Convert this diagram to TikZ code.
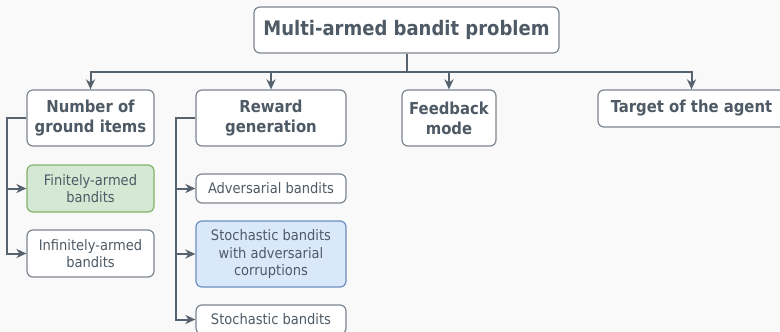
\documentclass[tikz,border=0pt]{standalone}
\usepackage{fontspec}
\setmainfont{DejaVu Sans Condensed}
\usetikzlibrary{arrows.meta,positioning}
\definecolor{bgray}{RGB}{249,249,249}
\definecolor{linegray}{RGB}{86,99,110}
\definecolor{bordergray}{RGB}{125,133,142}
\definecolor{textgray}{RGB}{78,90,101}
\definecolor{leafgreen}{RGB}{213,232,212}
\definecolor{greenborder}{RGB}{130,179,102}
\definecolor{leafblue}{RGB}{218,232,252}
\definecolor{blueborder}{RGB}{108,142,191}
\tikzset{
    % Define standard node styles
    rootbox/.style={
        rectangle, draw=bordergray, line width=1.2pt, fill=white,
        rounded corners=6pt, align=center, text=textgray,
        font=\fontsize{20}{23}\selectfont\bfseries,
        minimum width=305pt, minimum height=46pt, inner sep=0pt
    },
    catbox/.style={
        rectangle, draw=bordergray, line width=1.2pt, fill=white,
        rounded corners=6pt, align=center, text=textgray,
        font=\fontsize{16.5}{20}\selectfont\bfseries,
        minimum height=56pt, inner sep=0pt
    },
    leafbox/.style={
        rectangle, draw=bordergray, line width=1.2pt, fill=white,
        rounded corners=6pt, align=center, text=textgray,
        font=\fontsize{14.5}{17.5}\selectfont,
        inner sep=0pt
    },
    arrow/.style={
        -{Stealth[length=10pt,width=9pt,inset=3pt]}, line width=2pt, color=linegray
    }
}
\begin{document}
\begin{tikzpicture}[x=1pt,y=-1pt]

% Canvas
\fill[bgray] (0,0) rectangle (780,332);
\useasboundingbox (0,0) rectangle (780,332);
\clip (0,0) rectangle (780,332);

% Root
\node[rootbox] (root) at (406.5,30) {Multi-armed bandit problem};

% Categories
\node[catbox, minimum width=127pt] (items) at (90.5,118) {Number of\\ground items};
\node[catbox, minimum width=150pt] (reward) at (271,118) {Reward\\generation};
\node[catbox, minimum width=94pt] (feedback) at (449,118) {Feedback\\mode};
\node[catbox, minimum width=187pt, minimum height=37pt] (target) at (691.5,108.5) {Target of the agent};

% Leaves of ground items
\node[leafbox, fill=leafgreen, draw=greenborder, minimum width=127pt, minimum height=47pt] (finite) at (90.5,188.5) {Finitely-armed\\bandits};
\node[leafbox, minimum width=127pt, minimum height=47pt] (infinite) at (90.5,253.5) {Infinitely-armed\\bandits};

% Leaves of reward generation
\node[leafbox, minimum width=150pt, minimum height=29pt] (adversarial) at (271,188.5) {Adversarial bandits};
\node[leafbox, fill=leafblue, draw=blueborder, minimum width=150pt, minimum height=66pt] (corrupted) at (271,254) {Stochastic bandits\\with adversarial\\corruptions};
\node[leafbox, minimum width=150pt, minimum height=29pt] (stochastic) at (271,319.5) {Stochastic bandits};

% Tree connectors
\draw[arrow] (root.south) -- ++(0,18) -| (items.north);
\draw[arrow] (root.south) -- ++(0,18) -| (reward.north);
\draw[arrow] (root.south) -- ++(0,18) -| (feedback.north);
\draw[arrow] (root.south) -- ++(0,18) -| (target.north);

\draw[arrow] (items.west) -- ++(-19,0) |- (finite.west);
\draw[arrow] (items.west) -- ++(-19,0) |- (infinite.west);

\draw[arrow] (reward.west) -- ++(-19,0) |- (adversarial.west);
\draw[arrow] (reward.west) -- ++(-19,0) |- (corrupted.west);
\draw[arrow] (reward.west) -- ++(-19,0) |- (stochastic.west);

\end{tikzpicture}
\end{document}
